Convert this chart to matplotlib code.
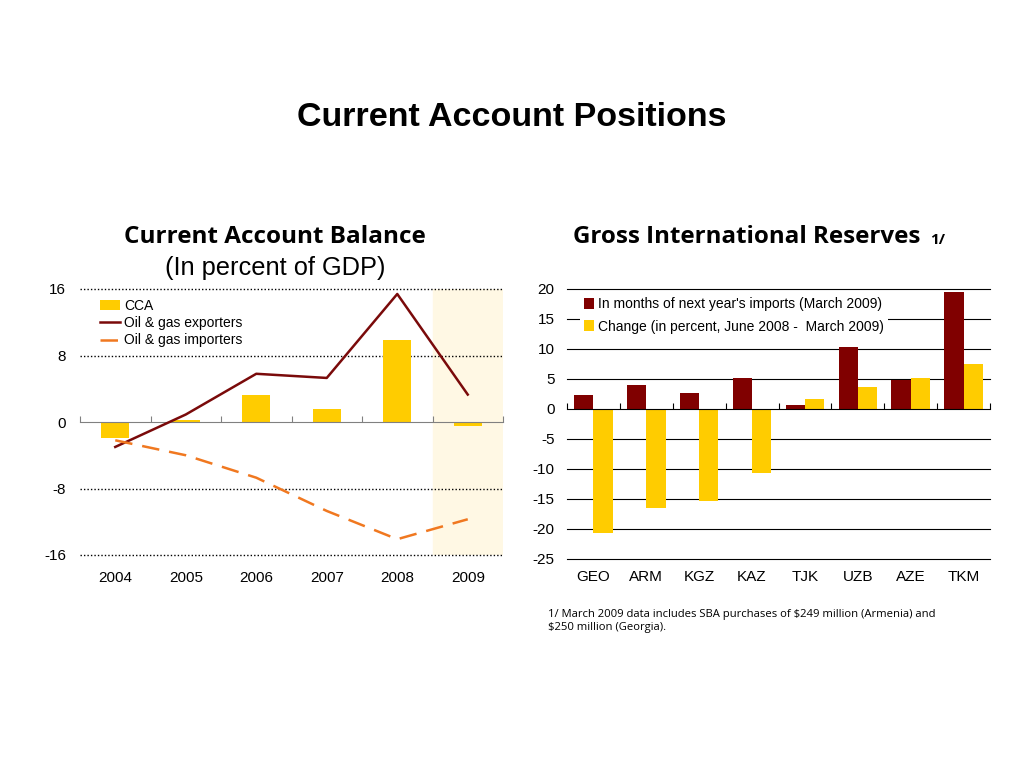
import matplotlib.pyplot as plt
from matplotlib.transforms import blended_transform_factory

# left panel data
years = ['2004', '2005', '2006', '2007', '2008', '2009']
cca = [-1.9, 0.3, 3.2, 1.6, 9.9, -0.5]
exporters = [-3.0, 0.9, 5.8, 5.3, 15.4, 3.3]
importers = [-2.2, -4.0, -6.7, -10.7, -14.1, -11.7]

# right panel data
countries = ['GEO', 'ARM', 'KGZ', 'KAZ', 'TJK', 'UZB', 'AZE', 'TKM']
months_imports = [2.3, 4.0, 2.7, 5.1, 0.7, 10.4, 4.9, 19.5]
change_pct = [-20.7, -16.5, -15.4, -10.7, 1.6, 3.7, 5.2, 7.5]

yellow = '#FFCC00'
maroon = '#800000'
orange = '#F07820'
sans = ['Liberation Sans', 'DejaVu Sans']
head = ['Open Sans', 'DejaVu Sans']

plt.rcParams['font.family'] = sans
plt.rcParams['axes.unicode_minus'] = False

fig = plt.figure(figsize=(10.24, 7.68), dpi=100)
fig.text(0.5, 1 - 117 / 768, 'Current Account Positions', ha='center', va='center',
         fontsize=24.5, fontweight='bold')

# ---- left: current account balance
ax1 = fig.add_axes([80 / 1024, 1 - 555 / 768, 423 / 1024, 266 / 768])
x = list(range(len(years)))
ax1.axvspan(4.5, 5.5, color='#FFF8E4', zorder=0)
b = ax1.bar(x, cca, width=0.4, color=yellow, label='CCA', zorder=2)
l1, = ax1.plot(x, exporters, color='#7A0A0A', lw=1.8, label='Oil & gas exporters', zorder=3)
l2, = ax1.plot(x, importers, color=orange, lw=1.8, ls=(0, (7, 4)), label='Oil & gas importers', zorder=3)
ax1.set_xlim(-0.5, 5.5)
ax1.set_ylim(-16, 16)
ax1.set_yticks([-16, -8, 0, 8, 16])
for v in [-16, -8, 8, 16]:
    ax1.axhline(v, color='black', lw=1, ls=(0, (1, 1.5)), zorder=1, clip_on=False)
for s in ['top', 'right', 'left']:
    ax1.spines[s].set_visible(False)
ax1.spines['bottom'].set_position(('data', 0))
ax1.spines['bottom'].set_color('#808080')
ax1.set_xticks([i + 0.5 for i in x[:-1]] + [-0.5, 5.5])
ax1.set_xticklabels([])
ax1.tick_params(axis='x', direction='in', length=4, color='#808080')
ax1.tick_params(axis='y', length=0, labelsize=11, pad=10)
tr1 = blended_transform_factory(ax1.transData, ax1.transAxes)
for i, yr in enumerate(years):
    ax1.text(i, -0.085, yr, transform=tr1, ha='center', va='center', fontsize=11)
ax1.legend([b, l1, l2], ['CCA', 'Oil & gas exporters', 'Oil & gas importers'],
           loc='upper left', bbox_to_anchor=(0.035, 0.985), frameon=False, fontsize=10,
           handlelength=1.4, handletextpad=0.3, labelspacing=0.25, borderaxespad=0)
fig.text(275 / 1024, 1 - 237 / 768, 'Current Account Balance',
         ha='center', va='center', fontsize=17.5, fontweight='bold', family=head)
fig.text(275 / 1024, 1 - 268 / 768, '(In percent of GDP)',
         ha='center', va='center', fontsize=18.3)

# ---- right: gross international reserves
ax2 = fig.add_axes([567 / 1024, 1 - 559 / 768, 423 / 1024, 270 / 768])
xc = list(range(len(countries)))
w = 0.365
ax2.bar([i - w / 2 for i in xc], months_imports, width=w, color=maroon,
        label="In months of next year's imports (March 2009)", zorder=2)
ax2.bar([i + w / 2 for i in xc], change_pct, width=w, color=yellow,
        label='Change (in percent, June 2008 -  March 2009)', zorder=2)
ax2.set_xlim(-0.5, 7.5)
ax2.set_ylim(-25, 20)
ax2.set_yticks(range(-25, 21, 5))
for v in range(-25, 21, 5):
    if v != 0:
        ax2.axhline(v, color='black', lw=0.8, zorder=0, clip_on=False)
for s in ['top', 'right', 'left']:
    ax2.spines[s].set_visible(False)
ax2.spines['bottom'].set_position(('data', 0))
ax2.spines['bottom'].set_color('black')
ax2.set_xticks([i + 0.5 for i in xc[:-1]] + [-0.5, 7.5])
ax2.set_xticklabels([])
ax2.tick_params(axis='x', direction='in', length=4)
ax2.tick_params(axis='y', length=0, labelsize=11, pad=9)
tr2 = blended_transform_factory(ax2.transData, ax2.transAxes)
for i, c in enumerate(countries):
    ax2.text(i, -0.065, c, transform=tr2, ha='center', va='center', fontsize=11)
leg = ax2.legend(loc='upper left', bbox_to_anchor=(0.03, 0.985), frameon=True, fontsize=10,
                 handlelength=0.7, handleheight=0.8, handletextpad=0.3, labelspacing=0.6,
                 borderaxespad=0, borderpad=0.3, fancybox=False)
leg.get_frame().set_facecolor('white')
leg.get_frame().set_edgecolor('none')
leg.get_frame().set_alpha(1)
leg.set_zorder(5)
fig.text(747 / 1024, 1 - 237 / 768, 'Gross International Reserves', ha='center', va='center',
         fontsize=17.4, fontweight='bold', family=head)
fig.text(930 / 1024, 1 - 240 / 768, '1/', ha='left', va='center', fontsize=11,
         fontweight='bold', family=head)
fig.text(548 / 1024, 1 - 621 / 768,
         '1/ March 2009 data includes SBA purchases of $249 million (Armenia) and\n$250 million (Georgia).',
         ha='left', va='center', fontsize=8.1, family=head, linespacing=1.3)

fig.savefig('out.png', dpi=100)
